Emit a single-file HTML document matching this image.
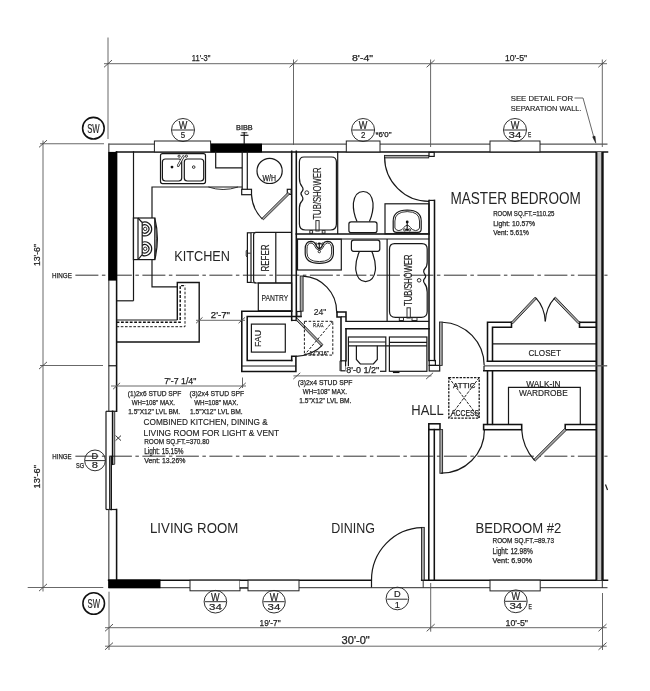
<!DOCTYPE html>
<html lang="en">
<head>
<meta charset="utf-8">
<title>Floor Plan</title>
<style>
html,body{margin:0;padding:0;background:#fff;}
body{width:650px;height:691px;overflow:hidden;}
svg{display:block;will-change:transform;filter:blur(.5px);}
.w{stroke:#111;stroke-width:1.55;fill:none;stroke-linecap:square;}
.w2{stroke:#111;stroke-width:2;fill:none;}
.w3{stroke:#111;stroke-width:2.4;fill:none;}
.o{stroke:#555;stroke-width:1.3;fill:none;}
.m{stroke:#181818;stroke-width:1.2;fill:none;}
.t{stroke:#262626;stroke-width:.95;fill:none;}
.d{stroke:#686868;stroke-width:1;fill:none;}
.tk{stroke:#444;stroke-width:.9;fill:none;}
.h{stroke:#333;stroke-width:1;fill:none;stroke-dasharray:23 3.5 3.5 3.5;}
.ds{stroke:#1c1c1c;stroke-width:1;fill:none;stroke-dasharray:2.6 1.6;}
.m2{stroke:#151515;stroke-width:1.4;fill:none;}
.dsb{stroke:#111;stroke-width:1.4;fill:none;stroke-dasharray:2.8 1.6;}
.ds2{stroke:#1a1a1a;stroke-width:1.3;fill:none;stroke-dasharray:2.4 1.2;}
.ds3{stroke:#222;stroke-width:1;fill:none;stroke-dasharray:3 1.3;}
.blk{fill:#000;stroke:none;}
.lf{fill:#a8a8a8;stroke:#222;stroke-width:.9;}
.win{fill:#fff;stroke:#222;stroke-width:1;}
.hatch{fill:#c6c6c6;stroke:none;}
.dot{fill:#111;stroke:none;}
.arrow{fill:#222;stroke:#222;stroke-width:.5;}
.fa{stroke:#222;stroke-width:2.6;fill:none;stroke-linecap:round;}
.fb{stroke:#fff;stroke-width:1.1;fill:none;stroke-linecap:round;}
.tx{font-family:"Liberation Sans",sans-serif;fill:#222;stroke:#222;stroke-width:.15;}
.big{fill:#262626;stroke:none;}
.sm{fill:#222;stroke:#222;stroke-width:.25;}
.dt{fill:#222;stroke:#222;stroke-width:.25;}
.tg{fill:#222;stroke:#222;stroke-width:.2;}
</style>
</head>
<body>
<svg width="650" height="691" viewBox="0 0 650 691">
<rect x="0" y="0" width="650" height="691" fill="#fff"/>
<g id="dims">
<line class="d" x1="104" y1="63.7" x2="607" y2="63.7"/>
<line class="d" x1="108" y1="37.5" x2="108" y2="139"/>
<line class="d" x1="293.5" y1="59.5" x2="293.5" y2="145"/>
<line class="d" x1="430.6" y1="59.5" x2="430.6" y2="147"/>
<line class="d" x1="602.3" y1="59.5" x2="602.3" y2="147"/>
<line class="tk" x1="104" y1="67.3" x2="112" y2="60.1"/>
<line class="tk" x1="289.5" y1="67.3" x2="297.5" y2="60.1"/>
<line class="tk" x1="426.6" y1="67.3" x2="434.6" y2="60.1"/>
<line class="tk" x1="598.3" y1="67.3" x2="606.3" y2="60.1"/>
<text class="tx dt" x="191.8" y="60.8" font-size="9.5" textLength="18.7" lengthAdjust="spacingAndGlyphs">11'-3"</text>
<text class="tx dt" x="352" y="60.8" font-size="9.5" textLength="21" lengthAdjust="spacingAndGlyphs">8'-4"</text>
<text class="tx dt" x="505" y="60.8" font-size="9.5" textLength="22" lengthAdjust="spacingAndGlyphs">10'-5"</text>
<line class="d" x1="43" y1="140.5" x2="43" y2="591.5"/>
<line class="d" x1="40" y1="143.75" x2="104" y2="143.75"/>
<line class="d" x1="40" y1="365.5" x2="103" y2="365.5"/>
<line class="d" x1="27.7" y1="587.5" x2="103.3" y2="587.5"/>
<line class="tk" x1="39" y1="147.35" x2="47" y2="140.15"/>
<line class="tk" x1="39" y1="369.1" x2="47" y2="361.9"/>
<line class="tk" x1="39" y1="591.1" x2="47" y2="583.9"/>
<text class="tx dt" transform="translate(39.5 266) rotate(-90)" font-size="9.08" textLength="22" lengthAdjust="spacingAndGlyphs">13'-6"</text>
<text class="tx dt" transform="translate(39.5 488.5) rotate(-90)" font-size="9.08" textLength="23.5" lengthAdjust="spacingAndGlyphs">13'-6"</text>
<line class="d" x1="109" y1="591.7" x2="109" y2="650"/>
<line class="d" x1="430.7" y1="583" x2="430.7" y2="631.7"/>
<line class="d" x1="602.5" y1="593" x2="602.5" y2="650"/>
<line class="d" x1="105" y1="627.7" x2="606.7" y2="627.7"/>
<line class="d" x1="105" y1="646.2" x2="606.7" y2="646.2"/>
<line class="tk" x1="105" y1="631.3" x2="113" y2="624.1"/>
<line class="tk" x1="426.7" y1="631.3" x2="434.7" y2="624.1"/>
<line class="tk" x1="598.5" y1="631.3" x2="606.5" y2="624.1"/>
<line class="tk" x1="105" y1="649.8" x2="113" y2="642.6"/>
<line class="tk" x1="598.5" y1="649.8" x2="606.5" y2="642.6"/>
<text class="tx dt" x="259.6" y="625.6" font-size="9.5" textLength="21" lengthAdjust="spacingAndGlyphs">19'-7"</text>
<text class="tx dt" x="505.5" y="625.6" font-size="9.5" textLength="22.5" lengthAdjust="spacingAndGlyphs">10'-5"</text>
<text class="tx dt" x="341.6" y="643.6" font-size="10.06" textLength="28.2" lengthAdjust="spacingAndGlyphs">30'-0"</text>
</g>
<g id="hinge">
<line class="h" x1="75.4" y1="275.2" x2="607.5" y2="275.2"/>
<line class="h" x1="75.4" y1="456.2" x2="607.5" y2="456.2"/>
<text class="tx sm" x="52" y="278" font-size="7.68" textLength="19.8" lengthAdjust="spacingAndGlyphs">HINGE</text>
<text class="tx sm" x="52.3" y="459.2" font-size="7.4" textLength="19.3" lengthAdjust="spacingAndGlyphs">HINGE</text>
</g>
<g id="ext">
<line class="o" x1="108.5" y1="144.1" x2="607.5" y2="144.1"/>
<line class="w" x1="116.5" y1="151.9" x2="607.5" y2="151.9"/>
<rect class="blk" x="210.6" y="143.6" width="51.4" height="8.8"/>
<line class="o" x1="108.8" y1="143.6" x2="108.8" y2="411.3"/>
<line class="w" x1="116.6" y1="151.9" x2="116.6" y2="411.3"/>
<rect class="blk" x="108.3" y="151.9" width="8.7" height="128.7"/>
<line class="m" x1="108.6" y1="365.75" x2="116.6" y2="365.75"/>
<line class="m" x1="106" y1="411.3" x2="116.6" y2="411.3"/>
<line class="m" x1="106" y1="509.5" x2="116.6" y2="509.5"/>
<line class="m" x1="106" y1="411.3" x2="106" y2="509.5"/>
<line class="w" x1="112.6" y1="411.3" x2="112.6" y2="464.3"/>
<line class="t" x1="114.7" y1="411.3" x2="114.7" y2="464.3"/>
<line class="t" x1="109.5" y1="456.5" x2="109.5" y2="509.5"/>
<line class="w" x1="111.2" y1="456.5" x2="111.2" y2="509.5"/>
<line class="t" x1="112.6" y1="464.3" x2="114.7" y2="464.3"/>
<line class="o" x1="108.8" y1="509.5" x2="108.8" y2="587.9"/>
<line class="w" x1="116.6" y1="509.5" x2="116.6" y2="580"/>
<line class="w" x1="108.6" y1="580.2" x2="371.3" y2="580.2"/>
<line class="o" x1="108.6" y1="587.7" x2="607.5" y2="587.7"/>
<line class="w" x1="421.7" y1="580.2" x2="607.5" y2="580.2"/>
<line class="t" x1="423.2" y1="580.2" x2="423.2" y2="587.7"/>
<rect class="blk" x="108.3" y="579.5" width="52.2" height="8.7"/>
<rect class="hatch" x="596.4" y="151.9" width="6.1" height="428.3"/>
<line class="w2" x1="596.4" y1="151.9" x2="596.4" y2="580.2"/>
<line class="w3" x1="602.5" y1="151.9" x2="602.5" y2="580.2"/>
<line class="o" x1="596.4" y1="365.8" x2="607.2" y2="365.8"/>
<line class="t" x1="602.3" y1="580.2" x2="602.3" y2="587.9"/>
<line class="m" x1="605.5" y1="484.5" x2="607.5" y2="490"/>
<rect class="win" x="154.4" y="141" width="56.2" height="10.9"/>
<rect class="win" x="346.3" y="141" width="33.7" height="10.9"/>
<rect class="win" x="490" y="141" width="50" height="10.9"/>
<rect class="win" x="190" y="580.2" width="50" height="10.6"/>
<rect x="240" y="581" width="8" height="6.3" fill="#fff"/>
<line class="m" x1="239.5" y1="588" x2="248.3" y2="588"/>
<rect class="win" x="248" y="580.2" width="51" height="10.6"/>
<rect class="win" x="490" y="580.2" width="50.2" height="10.7"/>
</g>
<g id="tags">
<circle class="t" cx="183" cy="130" r="11.5"/>
<line class="t" x1="172.1" y1="130" x2="193.9" y2="130"/>
<text class="tx tg" x="183" y="128.8" font-size="10" text-anchor="middle" textLength="8.6" lengthAdjust="spacingAndGlyphs">W</text>
<text class="tx tg" x="183" y="138.1" font-size="9.4" text-anchor="middle" textLength="4.4" lengthAdjust="spacingAndGlyphs">5</text>
<circle class="t" cx="363.1" cy="130" r="11.5"/>
<line class="t" x1="352.2" y1="130" x2="374" y2="130"/>
<text class="tx tg" x="363.1" y="128.8" font-size="10" text-anchor="middle" textLength="8.6" lengthAdjust="spacingAndGlyphs">W</text>
<text class="tx tg" x="363.1" y="138.1" font-size="9.4" text-anchor="middle" textLength="4.4" lengthAdjust="spacingAndGlyphs">2</text>
<circle class="t" cx="515" cy="130" r="11.5"/>
<line class="t" x1="504.1" y1="130" x2="525.9" y2="130"/>
<text class="tx tg" x="515" y="128.8" font-size="10" text-anchor="middle" textLength="8.6" lengthAdjust="spacingAndGlyphs">W</text>
<text class="tx tg" x="515" y="138.1" font-size="9.4" text-anchor="middle" textLength="12.8" lengthAdjust="spacingAndGlyphs">34</text>
<circle class="t" cx="215.4" cy="601.7" r="11.3"/>
<line class="t" x1="204.7" y1="601.7" x2="226.1" y2="601.7"/>
<text class="tx tg" x="215.4" y="600.5" font-size="10" text-anchor="middle" textLength="8.6" lengthAdjust="spacingAndGlyphs">W</text>
<text class="tx tg" x="215.4" y="609.8" font-size="9.4" text-anchor="middle" textLength="12.8" lengthAdjust="spacingAndGlyphs">34</text>
<circle class="t" cx="274" cy="601.7" r="11.3"/>
<line class="t" x1="263.3" y1="601.7" x2="284.7" y2="601.7"/>
<text class="tx tg" x="274" y="600.5" font-size="10" text-anchor="middle" textLength="8.6" lengthAdjust="spacingAndGlyphs">W</text>
<text class="tx tg" x="274" y="609.8" font-size="9.4" text-anchor="middle" textLength="12.8" lengthAdjust="spacingAndGlyphs">34</text>
<circle class="t" cx="515.8" cy="601.3" r="11.4"/>
<line class="t" x1="505" y1="601.3" x2="526.6" y2="601.3"/>
<text class="tx tg" x="515.8" y="600.1" font-size="10" text-anchor="middle" textLength="8.6" lengthAdjust="spacingAndGlyphs">W</text>
<text class="tx tg" x="515.8" y="609.4" font-size="9.4" text-anchor="middle" textLength="12.8" lengthAdjust="spacingAndGlyphs">34</text>
<circle class="t" cx="397.4" cy="598.5" r="11.3"/>
<line class="t" x1="387.2" y1="599.2" x2="407.6" y2="599.2"/>
<text class="tx tg" x="397.4" y="597.4" font-size="9.2" text-anchor="middle">D</text>
<text class="tx tg" x="397.4" y="607.6" font-size="9.2" text-anchor="middle">1</text>
<circle class="w" cx="93.4" cy="128.2" r="10.8"/>
<text class="tx" x="87.2" y="132.6" font-size="11.87" textLength="12.5" lengthAdjust="spacingAndGlyphs">SW</text>
<circle class="w" cx="93.7" cy="603.5" r="10.8"/>
<text class="tx" x="87.5" y="607.9" font-size="11.87" textLength="12.5" lengthAdjust="spacingAndGlyphs">SW</text>
<circle class="t" cx="95" cy="460.4" r="10.4"/>
<line class="t" x1="85" y1="460.6" x2="105" y2="460.6"/>
<text class="tx tg" x="94.8" y="459" font-size="9.6" text-anchor="middle" textLength="6.6" lengthAdjust="spacingAndGlyphs">D</text>
<text class="tx tg" x="94.8" y="468.3" font-size="9.6" text-anchor="middle" textLength="6.2" lengthAdjust="spacingAndGlyphs">8</text>
<text class="tx sm" x="76.1" y="468.2" font-size="7.54" textLength="8.1" lengthAdjust="spacingAndGlyphs">SG</text>
<text class="tx sm" x="375.4" y="137.2" font-size="6.7" textLength="16.1" lengthAdjust="spacingAndGlyphs">*6'0"</text>
<text class="tx sm" x="528" y="137.2" font-size="7.26" textLength="3.2" lengthAdjust="spacingAndGlyphs">E</text>
<text class="tx sm" x="528.4" y="609.4" font-size="7.82" textLength="3.4" lengthAdjust="spacingAndGlyphs">E</text>
<text class="tx sm" x="236" y="130.4" font-size="6.84" textLength="16.7" lengthAdjust="spacingAndGlyphs">BIBB</text>
<line class="m" x1="244.2" y1="132" x2="244.2" y2="144"/>
<line class="t" x1="241.4" y1="132.8" x2="247.3" y2="132.8"/>
<line class="m" x1="240.5" y1="135.3" x2="248.5" y2="135.3"/>
<text class="tx" x="510.8" y="100.8" font-size="8.1" textLength="62.2" lengthAdjust="spacingAndGlyphs">SEE DETAIL FOR</text>
<text class="tx" x="510.8" y="111" font-size="8.1" textLength="70.7" lengthAdjust="spacingAndGlyphs">SEPARATION WALL.</text>
<path class="d" d="M574.5 98 L583 98 L594.6 140"/>
<path class="arrow" d="M595.8 143.2 L592.6 136.8 L595 136.1 Z"/>
</g>
<g id="kitchen">
<line class="m" x1="133.5" y1="151.3" x2="133.5" y2="300.8"/>
<line class="m" x1="116.6" y1="300.8" x2="133.5" y2="300.8"/>
<path class="m" d="M242.2 187 L152 187 L152 218"/>
<path class="m" d="M152 259.6 L152 286.9 L177.3 286.9"/>
<path class="m2" d="M177.3 320 L177.3 282.5 L199.2 282.5 L199.2 342 L116.6 342"/>
<line class="m" x1="116.6" y1="320" x2="177.3" y2="320"/>
<path class="dsb" d="M116.6 322.3 L180.2 322.3 L180.2 285.6 L185 285.6"/>
<path class="ds" d="M116.6 326.7 L185 326.7 L185 285.6"/>
<rect class="m" x="160.5" y="153.6" width="45" height="30" rx="2"/>
<rect class="m" x="162.4" y="159" width="19.3" height="22" rx="3"/>
<rect class="m" x="184.3" y="159" width="19.4" height="22" rx="3"/>
<circle class="dot" cx="172" cy="167.1" r="1.4"/>
<circle class="t" cx="193.7" cy="167.1" r="1.3"/>
<circle class="t" cx="179.1" cy="156.2" r="1.1"/>
<circle class="t" cx="186.4" cy="156.2" r="1.1"/>
<path class="fa" d="M183.3 156.6 L178.2 165.6"/>
<path class="fb" d="M183.3 156.6 L178.2 165.6"/>
<path class="m" d="M215.7 151.3 L215.7 167.8 L242.2 167.8"/>
<path class="t" d="M208.4 187 Q223 192 238 187"/>
<rect class="m" x="133.4" y="218" width="21.4" height="41.6"/>
<line class="m" x1="138" y1="218" x2="138" y2="259.6"/>
<path class="m" d="M138 218 L142.2 222.6 L142.2 254.6 L138 259.6"/>
<path class="m" d="M154.8 218 Q160 238.8 154.8 259.6"/>
<path class="t" d="M154.8 221.5 Q158 238.8 154.8 256"/>
<path class="m" d="M142.2 222.36 A7 7 0 1 1 142.2 235.44"/>
<path class="m" d="M142.2 225.53 A4.2 4.2 0 1 1 142.2 232.27"/>
<circle class="t" cx="145.2" cy="228.9" r="1.7"/>
<path class="m" d="M142.2 242.26 A7 7 0 1 1 142.2 255.34"/>
<path class="m" d="M142.2 245.43 A4.2 4.2 0 1 1 142.2 252.17"/>
<circle class="t" cx="145.2" cy="248.8" r="1.7"/>
<text class="tx big" x="174.3" y="261" font-size="15.22" textLength="55.7" lengthAdjust="spacingAndGlyphs">KITCHEN</text>
</g>
<g id="util">
<line class="m" x1="242.2" y1="151.3" x2="242.2" y2="189.5"/>
<line class="m" x1="247.3" y1="151.3" x2="247.3" y2="189.5"/>
<rect class="m" x="241.7" y="189.3" width="9.8" height="5.4"/>
<circle class="m" cx="269.6" cy="170.9" r="12.6"/>
<text class="tx sm" x="262.6" y="180.6" font-size="8.38" textLength="13.4" lengthAdjust="spacingAndGlyphs">W/H</text>
<rect class="m" x="287.3" y="189.3" width="3.9" height="5.1"/>
<path class="lf" d="M288 192.4 L262 218.3 L263.4 219.8 L289.6 194 Z"/>
<path class="m" d="M251.5 194.7 Q252.3 209 262.4 219.2"/>
<line class="w" x1="291.7" y1="151.3" x2="291.7" y2="320.4"/>
<line class="w" x1="296.3" y1="151.3" x2="296.3" y2="320.4"/>
<line class="m" x1="291.7" y1="320.4" x2="296.3" y2="320.4"/>
<rect class="m" x="247.4" y="232.8" width="3.6" height="49.6"/>
<path class="m" d="M291.7 232.3 L256 232.3 Q253.6 232.3 253.6 235 L253.6 280.2 Q253.6 283 256 283 L291.7 283"/>
<line class="m" x1="275.8" y1="232.3" x2="275.8" y2="283"/>
<line class="t" x1="251" y1="232.7" x2="256" y2="232.4"/>
<line class="t" x1="251" y1="282.5" x2="256" y2="282.9"/>
<path class="t" d="M247.4 249.5 L246.2 250.8 L246.2 256 L247.4 257.3"/>
<line class="t" x1="248" y1="253.2" x2="250.6" y2="253.2"/>
<text class="tx" transform="translate(268.5 271.6) rotate(-90)" font-size="10.2" textLength="27.1" lengthAdjust="spacingAndGlyphs">REFER</text>
<rect class="m" x="258.3" y="283" width="33.4" height="27.8"/>
<text class="tx" x="261.4" y="300.5" font-size="8.8" textLength="26.8" lengthAdjust="spacingAndGlyphs">PANTRY</text>
<path class="w" d="M291.7 311.2 L241.8 311.2 L241.8 371.5 L295.9 371.5 L295.9 356.3 L291.7 356.3 L291.7 360.5"/>
<path class="w" d="M301 316.5 L247.2 316.5 L247.2 360.5 L291.7 360.5"/>
<line class="m" x1="241.8" y1="366" x2="295.9" y2="366"/>
<rect class="m" x="251.4" y="324.1" width="33.9" height="28"/>
<text class="tx" transform="translate(261 347) rotate(-90)" font-size="9.5" textLength="17" lengthAdjust="spacingAndGlyphs">FAU</text>
<path class="lf" d="M295.9 319.8 L321.3 346 L322.9 344.6 L297.4 318.4 Z"/>
<path class="m" d="M322.2 345.3 Q313 355 296 356.3"/>
<rect class="ds" x="304.4" y="321.3" width="28.4" height="33.8"/>
<line class="ds" x1="332.8" y1="321.3" x2="304.4" y2="355.1"/>
<text class="tx sm" x="313.3" y="326.8" font-size="5.31" textLength="10.9" lengthAdjust="spacingAndGlyphs">R.A.G.</text>
<text class="tx sm" x="309.5" y="354.6" font-size="5.31" textLength="19.1" lengthAdjust="spacingAndGlyphs">12"X16"</text>
<text class="tx" x="313.7" y="315.3" font-size="9.36" textLength="12.7" lengthAdjust="spacingAndGlyphs">24"</text>
<line class="d" x1="196" y1="320.3" x2="245" y2="320.3"/>
<line class="tk" x1="196.05" y1="323.23" x2="202.55" y2="317.38"/>
<line class="tk" x1="238.55" y1="323.23" x2="245.05" y2="317.38"/>
<text class="tx dt" x="210.8" y="317.6" font-size="8.8" textLength="19.2" lengthAdjust="spacingAndGlyphs">2'-7"</text>
<line class="d" x1="111" y1="386" x2="246" y2="386"/>
<line class="d" x1="242.5" y1="377.5" x2="242.5" y2="388"/>
<line class="tk" x1="113.1" y1="389.15" x2="120.1" y2="382.85"/>
<line class="tk" x1="238.8" y1="389.15" x2="245.8" y2="382.85"/>
<text class="tx dt" x="164.2" y="383.5" font-size="9.64" textLength="32.2" lengthAdjust="spacingAndGlyphs">7'-7 1/4"</text>
</g>
<g id="bath">
<line class="m" x1="337.7" y1="151.3" x2="337.7" y2="234"/>
<path class="m" d="M304 157 L331.5 157 Q336.4 157 336.4 162 L336.4 224 Q336.4 230 330.4 230 L305.4 230 Q299.4 230 299.4 224 L299.4 208 Q299.4 203.5 301.6 201.5 Q304 199 302 196 Q300 193.7 301.8 191.7 Q304.2 189.4 302 186.5 Q299.4 183.5 299.4 178 L299.4 162 Q299.4 157 304 157 Z"/>
<circle class="t" cx="306.8" cy="192.7" r="1.9"/>
<text class="tx" transform="translate(321.1 219.6) rotate(-90)" font-size="10.34" textLength="52.1" lengthAdjust="spacingAndGlyphs">TUB/SHOWER</text>
<rect class="t" x="315.9" y="220.6" width="3.2" height="10.4"/>
<rect class="t" x="309.8" y="230.6" width="2.8" height="2.6"/>
<rect class="t" x="322.2" y="230.6" width="2.8" height="2.6"/>
<line class="w" x1="296.3" y1="234" x2="429" y2="234"/>
<line class="m" x1="296.3" y1="239" x2="429" y2="239"/>
<rect class="m" x="297.5" y="239.2" width="43.8" height="30.8"/>
<path class="m" d="M311 241.3 Q305.2 241.5 305.2 249 L305.2 253 Q305.2 263.3 319.3 263.3 Q333.4 263.3 333.4 253 L333.4 249 Q333.4 241.5 327.6 241.3 Q324.5 241.3 323 244 Q321.5 248 319.3 248.6 Q317 248 315.6 244 Q314 241.3 311 241.3 Z"/>
<path class="t" d="M311 243 Q307 243.2 307 249 L307 253 Q307 261.6 319.3 261.6 Q331.6 261.6 331.6 253 L331.6 249 Q331.6 243.2 327.6 243 Q325.5 243.2 324.3 245.3 Q322.5 249.8 319.3 250.3 Q316 249.8 314.3 245.3 Q313 243.2 311 243 Z"/>
<ellipse class="dot" cx="319.3" cy="243.6" rx="1.7" ry="1.2"/>
<circle class="t" cx="316.1" cy="243.9" r="1"/>
<circle class="t" cx="322.5" cy="243.9" r="1"/>
<line class="m" x1="319.3" y1="244.5" x2="319.3" y2="249.6"/>
<circle class="t" cx="319.3" cy="251.6" r="1.2"/>
<line class="t" x1="341.5" y1="151.3" x2="341.5" y2="151.3"/>
<path class="m" d="M357 221.5 Q352.8 212 353.4 203 Q355 191.5 363.2 191.5 Q371.4 191.5 373 203 Q373.6 212 369.4 221.5"/>
<rect class="m" x="348.9" y="221.9" width="28.1" height="10.7" rx="2.2"/>
<rect class="m" x="351.4" y="240.2" width="28.4" height="11.1" rx="2.2"/>
<path class="m" d="M359.4 251.6 Q355.2 261 355.8 270 Q357.4 281.6 365.6 281.6 Q373.8 281.6 375.4 270 Q376 261 371.8 251.6"/>
<rect class="lf" x="300.2" y="276" width="2.9" height="35.2"/>
<rect class="m" x="296.8" y="311.5" width="4.2" height="5"/>
<path class="m" d="M303.05 276.15 A35.4 35.4 0 0 1 336.6 311.5"/>
<path class="w" d="M337 312 L346 312 L346 321.3"/>
<path class="w" d="M337 312 L337 317 L341 317 L341 360.8"/>
<line class="w" x1="346" y1="328.8" x2="346" y2="360.8"/>
<rect class="m" x="341" y="360.8" width="4.6" height="10"/>
<line class="m" x1="341" y1="316.8" x2="346" y2="316.8"/>
<rect class="m" x="429" y="152.3" width="5.2" height="4.1"/>
<rect class="lf" x="384.5" y="155.4" width="44.2" height="2.5"/>
<path class="m" d="M384.6 157 A44.4 44.4 0 0 0 429 201.4"/>
<line class="w" x1="429" y1="200.4" x2="429" y2="360.5"/>
<line class="w" x1="434.5" y1="200.4" x2="434.5" y2="360.5"/>
<line class="m" x1="429" y1="200.4" x2="434.3" y2="200.4"/>
<rect class="m" x="429.2" y="360.5" width="6.2" height="4.9"/>
<rect class="m" x="429.2" y="365.4" width="10.5" height="5.6"/>
<rect class="m" x="385" y="203.8" width="44" height="30"/>
<path class="m" d="M393.2 229 L393.2 221 Q393.2 210.2 407.2 210 Q421.2 210.2 421.2 221 L421.2 229 Q421.2 232.4 418 232.4 L396.4 232.4 Q393.2 232.4 393.2 229 Z"/>
<path class="t" d="M394.9 228 L394.9 221 Q394.9 211.8 407.2 211.6 Q419.5 211.8 419.5 221 L419.5 228 Q418.5 230.6 415.5 230.6 Q412 230.2 410.5 227.5 Q409 225.3 407.2 225.3 Q405.4 225.3 403.9 227.5 Q402.4 230.2 398.9 230.6 Q395.9 230.6 394.9 228 Z"/>
<circle class="dot" cx="407.2" cy="221.9" r="1.4"/>
<line class="m" x1="407.2" y1="223" x2="407.2" y2="228"/>
<circle class="t" cx="404.7" cy="229.9" r="1.1"/>
<circle class="t" cx="409.7" cy="229.9" r="1.1"/>
<ellipse class="dot" cx="407.2" cy="229.6" rx="1.5" ry="1.3"/>
<line class="m" x1="387.1" y1="239" x2="387.1" y2="321.3"/>
<path class="m" d="M394.5 243.6 L422 243.6 Q427.2 243.6 427.2 249 L427.2 262 Q427.2 266.5 425 268.5 Q422.6 271 424.6 274 Q426.6 276.3 424.8 278.3 Q422.4 280.6 424.6 283.5 Q427.2 286.5 427.2 292 L427.2 311.5 Q427.2 317.4 421.2 317.4 L395.5 317.4 Q389.5 317.4 389.5 311.5 L389.5 249 Q389.5 243.6 394.5 243.6 Z"/>
<circle class="t" cx="419.1" cy="280.3" r="1.8"/>
<text class="tx" transform="translate(412.2 306) rotate(-90)" font-size="10.34" textLength="51.5" lengthAdjust="spacingAndGlyphs">TUB/SHOWER</text>
<rect class="t" x="407" y="307.8" width="3.3" height="10.2"/>
<rect class="t" x="399.3" y="317.6" width="4.2" height="2.9"/>
<rect class="t" x="412" y="317.6" width="5" height="2.9"/>
<line class="m" x1="346" y1="321.3" x2="429" y2="321.3"/>
<line class="w" x1="346" y1="328.8" x2="429" y2="328.8"/>
<rect class="m" x="348.4" y="337" width="37.4" height="34.3"/>
<line class="m" x1="348.4" y1="342" x2="385.8" y2="342"/>
<path class="m" d="M356.4 345.8 L356.4 359.5 L360.3 364 L373.4 364 L377.3 359.5 L377.3 345.8"/>
<rect class="m" x="389.4" y="337" width="37.5" height="34.3"/>
<line class="m" x1="389.4" y1="342.3" x2="426.9" y2="342.3"/>
<line class="m" x1="348.4" y1="345.8" x2="426.9" y2="345.8"/>
<line class="w" x1="393.7" y1="372.3" x2="398.7" y2="372.3"/>
<line class="d" x1="293.4" y1="375.9" x2="431.5" y2="375.9"/>
<line class="tk" x1="293.3" y1="379.05" x2="300.3" y2="372.75"/>
<line class="tk" x1="426.1" y1="379.05" x2="433.1" y2="372.75"/>
<rect x="345.5" y="366.2" width="34.5" height="8" fill="#fff"/>
<text class="tx dt" x="346.3" y="373.3" font-size="8.94" textLength="33" lengthAdjust="spacingAndGlyphs">8'-0 1/2"</text>
<line class="t" x1="340" y1="360.8" x2="340" y2="371"/>
</g>
<g id="beds">
<rect class="lf" x="439.5" y="322" width="2.7" height="43.4"/>
<path class="m" d="M442.31 322.23 A43.4 43.4 0 0 1 484.2 365.6"/>
<path class="w" d="M511.5 322.3 L487.5 322.3 L487.5 361.3"/>
<path class="w" d="M511.5 322.3 L511.5 327.3 L492.5 327.3 L492.5 361.3"/>
<path class="w" d="M579.5 322.3 L596 322.3"/>
<path class="w" d="M579.5 322.3 L579.5 327.3 L596 327.3"/>
<path class="lf" d="M511.3 322.3 L535 297.2 L536.6 298.6 L512.8 323.7 Z"/>
<path class="lf" d="M579.7 322.3 L555.5 297.2 L553.9 298.6 L578.2 323.7 Z"/>
<path class="m" d="M535.8 297.8 Q544.5 307 545.3 321.4"/>
<path class="m" d="M554.8 297.8 Q546.1 307 545.3 321.4"/>
<line class="m" x1="492.5" y1="343.8" x2="596" y2="343.8"/>
<text class="tx" x="528.4" y="356" font-size="9.78" textLength="32.6" lengthAdjust="spacingAndGlyphs">CLOSET</text>
<line class="w" x1="487.5" y1="361.3" x2="596" y2="361.3"/>
<line class="o" x1="484" y1="365.8" x2="596" y2="365.8"/>
<line class="w" x1="483.8" y1="370.8" x2="596" y2="370.8"/>
<line class="m" x1="484" y1="365.9" x2="484" y2="370.8"/>
<line class="w" x1="487.5" y1="370.8" x2="487.5" y2="424.3"/>
<line class="w" x1="492.5" y1="370.8" x2="492.5" y2="424.3"/>
<path class="m" d="M508.5 424.3 L508.5 387.4 L580.3 387.4 L580.3 424.3"/>
<text class="tx" x="526.2" y="386.5" font-size="8.52" textLength="34.3" lengthAdjust="spacingAndGlyphs">WALK-IN</text>
<text class="tx" x="519" y="395.9" font-size="8.52" textLength="48.7" lengthAdjust="spacingAndGlyphs">WARDROBE</text>
<rect class="w" x="483.6" y="424.5" width="38.1" height="5.2"/>
<path class="w" d="M596 424.5 L565.2 424.5 L565.2 429.7 L596 429.7"/>
<path class="lf" d="M564.6 428.6 L533.7 459.6 L535.3 461 L566.4 430.2 Z"/>
<path class="m" d="M521.7 429.7 Q522.6 447 534.5 460.3"/>
<rect class="ds2" x="448.8" y="377.6" width="30.4" height="40.6"/>
<line class="ds3" x1="448.8" y1="377.6" x2="479.2" y2="418.2"/>
<line class="ds3" x1="479.2" y1="377.6" x2="448.8" y2="418.2"/>
<text class="tx sm" x="453.1" y="387.8" font-size="8.1" textLength="22.3" lengthAdjust="spacingAndGlyphs">ATTIC</text>
<text class="tx sm" x="451.1" y="416.3" font-size="8.8" textLength="27.9" lengthAdjust="spacingAndGlyphs">ACCESS</text>
<text class="tx big" x="411.3" y="414.6" font-size="15.08" textLength="32.5" lengthAdjust="spacingAndGlyphs">HALL</text>
<rect class="w" x="428.8" y="423.8" width="11.2" height="5.8"/>
<line class="w" x1="428.8" y1="429.6" x2="428.8" y2="580"/>
<line class="w" x1="434.3" y1="429.6" x2="434.3" y2="580"/>
<rect class="lf" x="439.9" y="429.6" width="2.7" height="43.7"/>
<path class="m" d="M441.2 473.2 A43.2 43.2 0 0 0 484.4 430"/>
<rect class="lf" x="421.5" y="527.4" width="2.8" height="52.6"/>
<path class="m" d="M422 527.6 A51.5 52.6 0 0 0 371.5 580.2 L371.5 587.5"/>
<text class="tx big" x="450.5" y="204.2" font-size="16.06" textLength="130.3" lengthAdjust="spacingAndGlyphs">MASTER BEDROOM</text>
<text class="tx sm" x="493.2" y="215.8" font-size="7.26" textLength="61.3" lengthAdjust="spacingAndGlyphs">ROOM SQ.FT.=110.25</text>
<text class="tx sm" x="493.2" y="226.2" font-size="7.82" textLength="42" lengthAdjust="spacingAndGlyphs">Light: 10.57%</text>
<text class="tx sm" x="493.2" y="235.2" font-size="7.26" textLength="35.6" lengthAdjust="spacingAndGlyphs">Vent: 5.61%</text>
<text class="tx big" x="475.5" y="532.5" font-size="14.94" textLength="85.8" lengthAdjust="spacingAndGlyphs">BEDROOM #2</text>
<text class="tx sm" x="492.5" y="543.3" font-size="7.4" textLength="61.5" lengthAdjust="spacingAndGlyphs">ROOM SQ.FT.=89.73</text>
<text class="tx sm" x="492.5" y="553.6" font-size="8.38" textLength="40.3" lengthAdjust="spacingAndGlyphs">Light: 12.98%</text>
<text class="tx sm" x="492.5" y="562.6" font-size="7.12" textLength="39.5" lengthAdjust="spacingAndGlyphs">Vent: 6.90%</text>
<text class="tx big" x="150" y="532.5" font-size="14.94" textLength="88.3" lengthAdjust="spacingAndGlyphs">LIVING ROOM</text>
<text class="tx big" x="331.3" y="532.5" font-size="14.94" textLength="43.7" lengthAdjust="spacingAndGlyphs">DINING</text>
</g>
<g id="notes">
<text class="tx sm" x="127.8" y="395.5" font-size="7.96" textLength="53.4" lengthAdjust="spacingAndGlyphs">(1)2x6 STUD SPF</text>
<text class="tx sm" x="131.8" y="405" font-size="7.68" textLength="43.2" lengthAdjust="spacingAndGlyphs">WH=108" MAX.</text>
<text class="tx sm" x="128.2" y="413.5" font-size="8.1" textLength="52" lengthAdjust="spacingAndGlyphs">1.5"X12" LVL BM.</text>
<text class="tx sm" x="189.4" y="395.5" font-size="7.96" textLength="54.8" lengthAdjust="spacingAndGlyphs">(3)2x4 STUD SPF</text>
<text class="tx sm" x="194.2" y="405" font-size="7.68" textLength="44" lengthAdjust="spacingAndGlyphs">WH=108" MAX.</text>
<text class="tx sm" x="190" y="413.5" font-size="8.1" textLength="52.6" lengthAdjust="spacingAndGlyphs">1.5"X12" LVL BM.</text>
<text class="tx sm" x="297.8" y="385" font-size="7.68" textLength="54.6" lengthAdjust="spacingAndGlyphs">(3)2x4 STUD SPF</text>
<text class="tx sm" x="302.8" y="394" font-size="7.68" textLength="44.2" lengthAdjust="spacingAndGlyphs">WH=108" MAX.</text>
<text class="tx sm" x="299.3" y="403.4" font-size="7.96" textLength="52.1" lengthAdjust="spacingAndGlyphs">1.5"X12" LVL BM.</text>
<text class="tx" x="143.6" y="425" font-size="9.5" textLength="124.1" lengthAdjust="spacingAndGlyphs">COMBINED KITCHEN, DINING &amp;</text>
<text class="tx" x="143.6" y="435.6" font-size="9.78" textLength="135.6" lengthAdjust="spacingAndGlyphs">LIVING ROOM FOR LIGHT &amp; VENT</text>
<text class="tx sm" x="144.2" y="443.5" font-size="7.82" textLength="65.1" lengthAdjust="spacingAndGlyphs">ROOM SQ.FT.=370.80</text>
<text class="tx sm" x="144.2" y="453.7" font-size="8.52" textLength="39.3" lengthAdjust="spacingAndGlyphs">Light: 15.15%</text>
<text class="tx sm" x="144.2" y="462.7" font-size="7.4" textLength="41.3" lengthAdjust="spacingAndGlyphs">Vent: 13.26%</text>
<line class="t" x1="115.6" y1="435.6" x2="121" y2="440.6"/>
<line class="t" x1="121" y1="435.6" x2="115.6" y2="440.6"/>
</g>
</svg>
</body>
</html>
